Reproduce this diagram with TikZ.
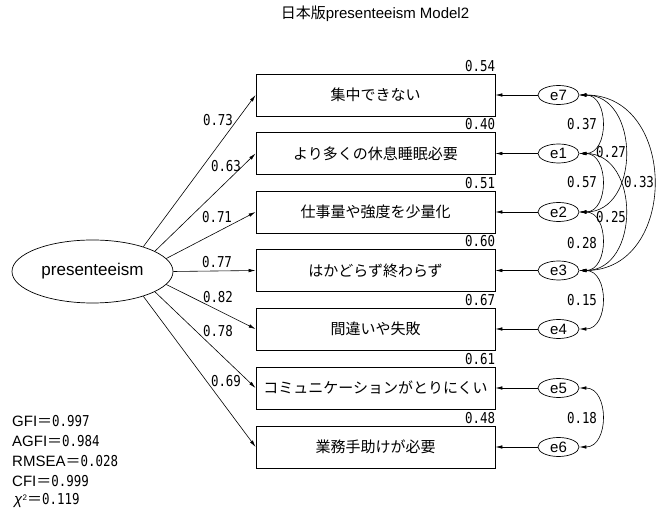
\documentclass[tikz,border=0pt]{standalone}
\usepackage{fontspec}
\setmainfont{Liberation Sans}
\newfontfamily\jp{Noto Sans CJK JP}
\newfontfamily\num[FakeStretch=0.83]{DejaVu Sans Mono}
\usetikzlibrary{arrows.meta,shapes.geometric}
\begin{document}
\begin{tikzpicture}[x=1pt,y=-1pt,
  box/.style={draw, line width=0.8pt, minimum width=239pt, minimum height=42pt, inner sep=0pt, font=\jp\fontsize{15}{17}\selectfont},
  err/.style={draw, ellipse, line width=0.7pt, minimum width=41pt, minimum height=19pt, inner sep=0pt, font=\fontsize{15}{17}\selectfont},
  lat/.style={draw, ellipse, line width=0.7pt, minimum width=161pt, minimum height=63pt, inner sep=0pt, font=\fontsize{17}{19}\selectfont},
  val/.style={font=\num\fontsize{15}{17}\selectfont, inner sep=0pt},
  stat/.style={font=\fontsize{15}{17}\selectfont, inner sep=0pt, anchor=west},
  arr/.style={-{Latex[length=7pt,width=3.5pt]}, line width=0.6pt},
  cov/.style={{Latex[length=7pt,width=3.5pt]}-{Latex[length=7pt,width=3.5pt]}, line width=0.6pt},
]
\useasboundingbox (0,0) rectangle (657,510);

% title
\node[font=\fontsize{15}{17}\selectfont, inner sep=0pt] (title) at (375,14) {{\jp 日本版}presenteeism Model2};

% latent
\node[lat] (pres) at (92.5,271.5) {presenteeism};

% observed boxes
\node[box] (b1) at (375.5,95)    {集中できない};
\node[box] (b2) at (375.5,153.5) {より多くの休息睡眠必要};
\node[box] (b3) at (375.5,212)   {仕事量や強度を少量化};
\node[box] (b4) at (375.5,270.5) {はかどらず終わらず};
\node[box] (b5) at (375.5,329)   {間違いや失敗};
\node[box] (b6) at (375.5,388)   {コミュニケーションがとりにくい};
\node[box] (b7) at (375.5,447)   {業務手助けが必要};

% variance labels
\path (b1.north east) ++(0,-2.5) node[val, anchor=base east] {0.54};
\path (b2.north east) ++(0,-2.5) node[val, anchor=base east] {0.40};
\path (b3.north east) ++(0,-2.5) node[val, anchor=base east] {0.51};
\path (b4.north east) ++(0,-2.5) node[val, anchor=base east] {0.60};
\path (b5.north east) ++(0,-2.5) node[val, anchor=base east] {0.67};
\path (b6.north east) ++(0,-2.5) node[val, anchor=base east] {0.61};
\path (b7.north east) ++(0,-2.5) node[val, anchor=base east] {0.48};

% error terms
\node[err] (e7) at (558.5,95)    {e7};
\node[err] (e1) at (558.5,153.5) {e1};
\node[err] (e2) at (558.5,212)   {e2};
\node[err] (e3) at (558.5,270.5) {e3};
\node[err] (e4) at (558.5,329)   {e4};
\node[err] (e5) at (558.5,388)   {e5};
\node[err] (e6) at (558.5,447)   {e6};

% loadings
\draw[arr] (pres.26)    -- (b1.west);
\draw[arr] (pres.18)    -- (b2.west);
\draw[arr] (pres.10.5)  -- (b3.west);
\draw[arr] (pres.east)  -- (b4.west);
\draw[arr] (pres.-10.5) -- (b5.west);
\draw[arr] (pres.-18)   -- (b6.west);
\draw[arr] (pres.-26)   -- (b7.west);

\node[val] (l1) at (218,120) {0.73};
\node[val] (l2) at (226,166) {0.63};
\node[val] (l3) at (217,217) {0.71};
\node[val] (l4) at (217,262) {0.77};
\node[val] (l5) at (218,297) {0.82};
\node[val] (l6) at (218,331) {0.78};
\node[val] (l7) at (226,381) {0.69};

% error arrows
\draw[arr] (e7) -- (b1);
\draw[arr] (e1) -- (b2);
\draw[arr] (e2) -- (b3);
\draw[arr] (e3) -- (b4);
\draw[arr] (e4) -- (b5);
\draw[arr] (e5) -- (b6);
\draw[arr] (e6) -- (b7);

% covariances
\draw[cov] (e7.east) .. controls +(30,0) and +(30,0) .. (e1.east);
\draw[cov] (e1.east) .. controls +(30,0) and +(30,0) .. (e2.east);
\draw[cov] (e2.east) .. controls +(30,0) and +(30,0) .. (e3.east);
\draw[cov] (e3.east) .. controls +(30,0) and +(30,0) .. (e4.east);
\draw[cov] (e5.east) .. controls +(30,0) and +(30,0) .. (e6.east);
\draw[cov] (e7.east) .. controls +(61,0) and +(61,0) .. (e2.east);
\draw[cov] (e1.east) .. controls +(61,0) and +(61,0) .. (e3.east);
\draw[cov] (e7.east) .. controls +(99,0) and +(99,0) .. (e3.east);

\node[val] (c1) at (582,124) {0.37};
\node[val] (c2) at (582,182) {0.57};
\node[val] (c3) at (582,243) {0.28};
\node[val] (c4) at (582,300) {0.15};
\node[val] (c5) at (582,418) {0.18};
\node[val] (c6) at (611,152) {0.27};
\node[val] (c7) at (611,217) {0.25};
\node[val] (c8) at (639,182) {0.33};

% fit statistics
\node[stat] (s1) at (12,421) {GFI{\jp ＝}{\num 0.997}};
\node[stat] (s2) at (12,441) {AGFI{\jp ＝}{\num 0.984}};
\node[stat] (s3) at (12,461) {RMSEA{\jp ＝}{\num 0.028}};
\node[stat] (s4) at (12,481) {CFI{\jp ＝}{\num 0.999}};
\node[stat] (s5) at (14,500) {\textit{χ}\raisebox{4pt}{\fontsize{8}{8}\selectfont 2}{\jp ＝}{\num 0.119}};
\end{tikzpicture}
\end{document}
